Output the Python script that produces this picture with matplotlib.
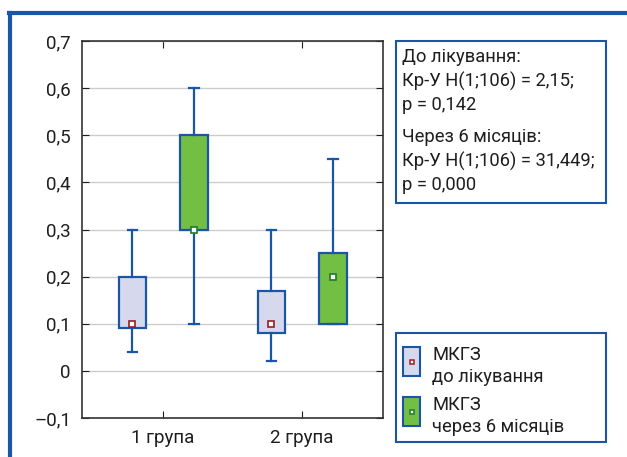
import matplotlib
matplotlib.use('Agg')
import matplotlib.pyplot as plt
from matplotlib.patches import Rectangle
from matplotlib.lines import Line2D

plt.rcParams['font.family'] = ['Roboto', 'DejaVu Sans']

groups = ['1 група', '2 група']
# whisker low, q1, median, q3, whisker high
pre_low = [0.04, 0.02]
pre_q1 = [0.09, 0.08]
pre_med = [0.10, 0.10]
pre_q3 = [0.20, 0.17]
pre_high = [0.30, 0.30]
post_low = [0.10, 0.10]
post_q1 = [0.30, 0.10]
post_med = [0.30, 0.20]
post_q3 = [0.50, 0.25]
post_high = [0.60, 0.45]

yticks = [-0.1, 0, 0.1, 0.2, 0.3, 0.4, 0.5, 0.6, 0.7]
ytick_labels = ['\u20130,1', '0', '0,1', '0,2', '0,3', '0,4', '0,5', '0,6', '0,7']

stat_text = ['До лікування:', 'Кр-У Н(1;106) = 2,15;', 'p = 0,142',
             'Через 6 місяців:', 'Кр-У Н(1;106) = 31,449;', 'p = 0,000']
legend_labels = [('МКГЗ', 'до лікування'), ('МКГЗ', 'через 6 місяців')]

blue = '#1a55a6'
pre_fill = '#d6d9ee'
post_fill = '#72bf44'
pre_mark = '#9b1c24'
post_mark = '#1f7a2a'
txt = '#1e1e1e'

fig = plt.figure(figsize=(6.27, 4.57), dpi=100)
W, H = 627, 457

def fx(px):
    return px / W

def fy(py):
    return 1 - py / H

ax = fig.add_axes([fx(82), fy(418), fx(383) - fx(82), fy(41) - fy(418)])

def stats(lo, q1, med, q3, hi):
    out = []
    for i in range(len(lo)):
        out.append(dict(whislo=lo[i], q1=q1[i], med=med[i], q3=q3[i], whishi=hi[i], fliers=[]))
    return out

pos = [1, 2]
off = 0.22
bw = 0.2
for st, p, fill, mc, meds in [(stats(pre_low, pre_q1, pre_med, pre_q3, pre_high), [x - off for x in pos], pre_fill, pre_mark, pre_med),
                              (stats(post_low, post_q1, post_med, post_q3, post_high), [x + off for x in pos], post_fill, post_mark, post_med)]:
    ax.bxp(st, positions=p, widths=bw, patch_artist=True, showfliers=False,
           boxprops=dict(facecolor=fill, edgecolor=blue, linewidth=1.6),
           whiskerprops=dict(color=blue, linewidth=1.6),
           capprops=dict(color=blue, linewidth=1.6),
           medianprops=dict(linewidth=0), capwidths=0.07, manage_ticks=False)
    ax.plot(p, meds, 's', ms=4, mfc='white', mec=mc, mew=1.2, zorder=5)

ax.set_xlim(0.417, 2.582)
ax.set_ylim(-0.1, 0.7)
ax.set_yticks(yticks)
ax.set_yticklabels(ytick_labels)
ax.set_xticks(pos)
ax.set_xticklabels(groups)
ax.tick_params(direction='in', length=5, labelsize=13.5, colors=txt, top=True, right=True, pad=8)
ax.grid(axis='y', color='#cccccc', linewidth=1)
ax.set_axisbelow(True)
for s in ax.spines.values():
    s.set_color('#333333')
    s.set_linewidth(1.2)

# outer frame
fig.add_artist(Line2D([fx(9), 1], [fy(13), fy(13)], color=blue, lw=3))
fig.add_artist(Line2D([fx(10), fx(10)], [fy(13), 0], color=blue, lw=3))

# statistics box
fig.add_artist(Rectangle((fx(396), fy(203)), fx(606) - fx(396), fy(41) - fy(203),
                         fill=False, edgecolor=blue, lw=1.5))
ys = [57, 81, 105, 137, 161, 185]
for t, y in zip(stat_text, ys):
    fig.text(fx(402), fy(y), t, fontsize=13.2, va='center', ha='left', color=txt)

# legend box
fig.add_artist(Rectangle((fx(396), fy(442)), fx(606) - fx(396), fy(333) - fy(442),
                         fill=False, edgecolor=blue, lw=1.5))
for (l1, l2), top, fill, mc in [(legend_labels[0], 347, pre_fill, pre_mark),
                                (legend_labels[1], 397, post_fill, post_mark)]:
    fig.add_artist(Rectangle((fx(403), fy(top + 29)), fx(420) - fx(403), fy(top) - fy(top + 29),
                             facecolor=fill, edgecolor=blue, lw=1.5))
    fig.add_artist(Line2D([fx(411.5)], [fy(top + 14.5)], marker='s', ms=3.5, mfc='white', mec=mc, mew=1.1))
    fig.text(fx(432), fy(top + 8), l1, fontsize=13.2, va='center', ha='left', color=txt)
    fig.text(fx(432), fy(top + 30), l2, fontsize=13.2, va='center', ha='left', color=txt)

fig.savefig('out.png', dpi=100)
